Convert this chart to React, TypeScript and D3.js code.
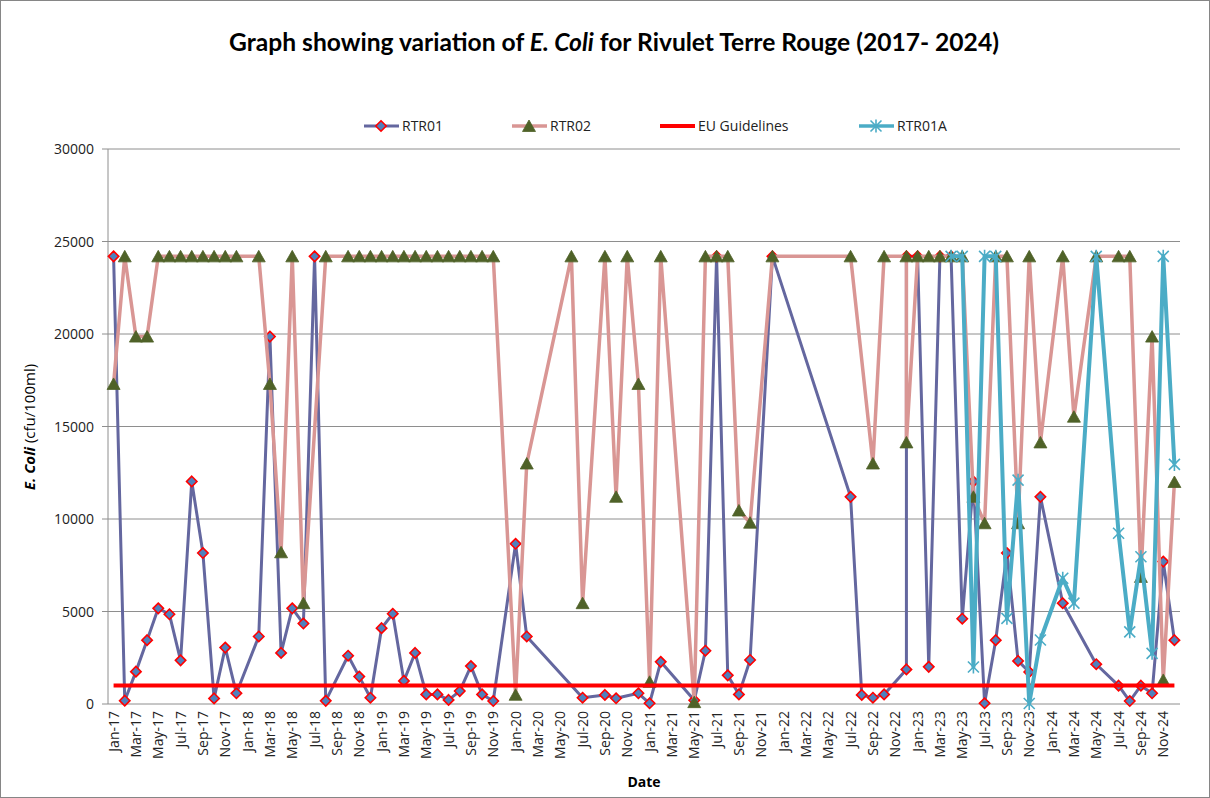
import React from 'react';
import * as d3 from 'd3';

// ---- Data ----
const months = d3.timeMonth.range(new Date(2017, 0, 1), new Date(2025, 0, 1));
const monthKey = d3.timeFormat('%Y-%m');
const tickFmt = d3.timeFormat('%b-%y');
const categories: string[] = months.map(monthKey);
const tickCategories: string[] = categories.filter((_, i) => i % 2 === 0);
const yTicks: number[] = [0, 5000, 10000, 15000, 20000, 25000, 30000];

const rtr01: [string, number][] = [
  ['2017-01', 24196], ['2017-02', 180], ['2017-03', 1750], ['2017-04', 3450], ['2017-05', 5170],
  ['2017-06', 4850], ['2017-07', 2360], ['2017-08', 12030], ['2017-09', 8160], ['2017-10', 300],
  ['2017-11', 3050], ['2017-12', 580], ['2018-02', 3650], ['2018-03', 19860], ['2018-04', 2760],
  ['2018-05', 5170], ['2018-06', 4350], ['2018-07', 24196], ['2018-08', 170], ['2018-10', 2610],
  ['2018-11', 1480], ['2018-12', 340], ['2019-01', 4100], ['2019-02', 4880], ['2019-03', 1250],
  ['2019-04', 2760], ['2019-05', 520], ['2019-06', 520], ['2019-07', 220], ['2019-08', 700],
  ['2019-09', 2050], ['2019-10', 520], ['2019-11', 160], ['2020-01', 8660], ['2020-02', 3650],
  ['2020-07', 340], ['2020-09', 490], ['2020-10', 310], ['2020-12', 580], ['2021-01', 40],
  ['2021-02', 2280], ['2021-05', 200], ['2021-06', 2880], ['2021-07', 24196], ['2021-08', 1550],
  ['2021-09', 520], ['2021-10', 2380], ['2021-12', 24196], ['2022-07', 11200], ['2022-08', 490],
  ['2022-09', 340], ['2022-10', 520], ['2022-12', 1870], ['2022-12', 24196], ['2023-01', 24196],
  ['2023-02', 2010], ['2023-03', 24196], ['2023-04', 24196], ['2023-05', 4610], ['2023-06', 12030],
  ['2023-07', 40], ['2023-08', 3450], ['2023-09', 8160], ['2023-10', 2330], ['2023-11', 1730],
  ['2023-12', 11200], ['2024-02', 5450], ['2024-05', 2150], ['2024-07', 990], ['2024-08', 160],
  ['2024-09', 990], ['2024-10', 580], ['2024-11', 7700], ['2024-12', 3450],
];

const rtr02: [string, number][] = [
  ['2017-01', 17300], ['2017-02', 24196], ['2017-03', 19860], ['2017-04', 19860], ['2017-05', 24196],
  ['2017-06', 24196], ['2017-07', 24196], ['2017-08', 24196], ['2017-09', 24196], ['2017-10', 24196],
  ['2017-11', 24196], ['2017-12', 24196], ['2018-02', 24196], ['2018-03', 17300], ['2018-04', 8200],
  ['2018-05', 24196], ['2018-06', 5450], ['2018-08', 24196], ['2018-10', 24196], ['2018-11', 24196],
  ['2018-12', 24196], ['2019-01', 24196], ['2019-02', 24196], ['2019-03', 24196], ['2019-04', 24196],
  ['2019-05', 24196], ['2019-06', 24196], ['2019-07', 24196], ['2019-08', 24196], ['2019-09', 24196],
  ['2019-10', 24196], ['2019-11', 24196], ['2020-01', 500], ['2020-02', 13000], ['2020-06', 24196],
  ['2020-07', 5450], ['2020-09', 24196], ['2020-10', 11200], ['2020-11', 24196], ['2020-12', 17300],
  ['2021-01', 1200], ['2021-02', 24196], ['2021-05', 100], ['2021-06', 24196], ['2021-07', 24196],
  ['2021-08', 24196], ['2021-09', 10460], ['2021-10', 9800], ['2021-12', 24196], ['2022-07', 24196],
  ['2022-09', 13000], ['2022-10', 24196], ['2022-12', 24196], ['2022-12', 14140], ['2023-01', 24196],
  ['2023-02', 24196], ['2023-03', 24196], ['2023-04', 24196], ['2023-05', 24196], ['2023-06', 11200],
  ['2023-07', 9770], ['2023-08', 24196], ['2023-09', 24196], ['2023-10', 9770], ['2023-11', 24196],
  ['2023-12', 14140], ['2024-02', 24196], ['2024-03', 15530], ['2024-05', 24196], ['2024-07', 24196],
  ['2024-08', 24196], ['2024-09', 6870], ['2024-10', 19860], ['2024-11', 1300], ['2024-12', 12000],
];

const euGuideline: [string, number][] = categories.map((c) => [c, 1000]);

const rtr01a: [string, number][] = [
  ['2023-04', 24196], ['2023-05', 24196], ['2023-06', 2000], ['2023-07', 24196], ['2023-08', 24196],
  ['2023-09', 4630], ['2023-10', 12100], ['2023-11', 30], ['2023-12', 3460], ['2024-02', 6800],
  ['2024-03', 5450], ['2024-05', 24196], ['2024-07', 9230], ['2024-08', 3900], ['2024-09', 7960],
  ['2024-10', 2740], ['2024-11', 24196], ['2024-12', 12950],
];

// ---- Layout ----
const W = 1210;
const H = 798;
const plot = { left: 108, right: 1180, top: 149, bottom: 704 };
const FONT = "'Open Sans', 'Liberation Sans', sans-serif";
const TITLE_FONT = "Lato, 'Open Sans', sans-serif";

const C01 = '#64679f';
const C02 = '#d99694';
const CEU = '#ff0000';
const C1A = '#4bacc6';

function Diamond({ x, y }: { x: number; y: number }) {
  const r = 5.2;
  return (
    <path
      d={`M${x},${y - r}L${x + r},${y}L${x},${y + r}L${x - r},${y}Z`}
      fill="#4f81bd"
      stroke="#ff0000"
      strokeWidth={1.6}
    />
  );
}

function Triangle({ x, y }: { x: number; y: number }) {
  const w = 6.5;
  const h = 11;
  return (
    <path
      d={`M${x},${y - h / 2 - 0.5}L${x + w},${y + h / 2}L${x - w},${y + h / 2}Z`}
      fill="#4f6228"
      stroke="#4f6228"
      strokeWidth={0.8}
    />
  );
}

function Star({ x, y }: { x: number; y: number }) {
  const r = 5.5;
  return (
    <path
      d={`M${x - r},${y - r}L${x + r},${y + r}M${x - r},${y + r}L${x + r},${y - r}M${x},${y - r - 1}L${x},${y + r + 1}`}
      stroke={C1A}
      strokeWidth={1.6}
      fill="none"
    />
  );
}

export default function App() {
  const x = d3.scaleBand<string>().domain(categories).range([plot.left, plot.right]).paddingInner(0).paddingOuter(0);
  const y = d3.scaleLinear().domain([0, 30000]).range([plot.bottom, plot.top]);
  const cx = (k: string) => (x(k) as number) + x.bandwidth() / 2;

  const line = d3
    .line<[string, number]>()
    .x((d) => cx(d[0]))
    .y((d) => y(d[1]));

  const legendY = 126;
  const legend = [
    { label: 'RTR01', x0: 364, color: C01, width: 3, marker: 'd' },
    { label: 'RTR02', x0: 512, color: C02, width: 3.5, marker: 't' },
    { label: 'EU Guidelines', x0: 660, color: CEU, width: 4, marker: '' },
    { label: 'RTR01A', x0: 859, color: C1A, width: 3.5, marker: 's' },
  ];

  return (
    <svg
      width={W}
      height={H}
      viewBox={`0 0 ${W} ${H}`}
      style={{ position: 'absolute', left: 0, top: 0, background: '#fff' }}
      fontFamily={FONT}
    >
      <rect x={0.5} y={0.5} width={W - 1} height={H - 1} fill="#fff" stroke="#868686" strokeWidth={1} />

      {/* Title */}
      <text x={614} y={51} textAnchor="middle" fontFamily={TITLE_FONT} fontWeight="bold" fontSize={24.6} fill="#000">
        <tspan>Graph showing variation of </tspan>
        <tspan fontStyle="italic">E. Coli</tspan>
        <tspan> for Rivulet Terre Rouge (2017- 2024)</tspan>
      </text>

      {/* Gridlines */}
      {yTicks.map((t) => (
        <line key={t} x1={plot.left} x2={plot.right} y1={y(t)} y2={y(t)} stroke="#8e8e8e" strokeWidth={1} />
      ))}

      {/* Axes */}
      <line x1={plot.left} x2={plot.left} y1={plot.top} y2={plot.bottom} stroke="#8e8e8e" strokeWidth={1} />
      {yTicks.map((t) => (
        <g key={'yt' + t}>
          <line x1={plot.left - 6} x2={plot.left} y1={y(t)} y2={y(t)} stroke="#8e8e8e" />
          <text x={94} y={y(t) + 5} textAnchor="end" fontSize={14} fill="#222">
            {t}
          </text>
        </g>
      ))}
      {tickCategories.map((k) => {
        const d = months[categories.indexOf(k)];
        return (
          <text
            key={k}
            transform={`translate(${cx(k) + 5},${711}) rotate(-90)`}
            textAnchor="end"
            fontSize={14}
            fill="#222"
          >
            {tickFmt(d)}
          </text>
        );
      })}

      {/* Axis titles */}
      <text transform={`translate(35,427) rotate(-90)`} textAnchor="middle" fontSize={15} fill="#000">
        <tspan fontWeight="bold" fontStyle="italic">E. Coli</tspan>
        <tspan> (cfu/100ml)</tspan>
      </text>
      <text x={644} y={787} textAnchor="middle" fontSize={14} fontWeight="bold" fill="#000">
        Date
      </text>

      {/* RTR01 */}
      <path d={line(rtr01) || ''} fill="none" stroke={C01} strokeWidth={3} strokeLinejoin="round" />
      {rtr01.map((d, i) => (
        <Diamond key={'a' + i} x={cx(d[0])} y={y(d[1])} />
      ))}

      {/* RTR02 */}
      <path d={line(rtr02) || ''} fill="none" stroke={C02} strokeWidth={3.5} strokeLinejoin="round" />
      {rtr02.map((d, i) => (
        <Triangle key={'b' + i} x={cx(d[0])} y={y(d[1])} />
      ))}

      {/* EU Guidelines */}
      <path d={line(euGuideline) || ''} fill="none" stroke={CEU} strokeWidth={4} />

      {/* RTR01A */}
      <path d={line(rtr01a) || ''} fill="none" stroke={C1A} strokeWidth={4} strokeLinejoin="round" />
      {rtr01a.map((d, i) => (
        <Star key={'c' + i} x={cx(d[0])} y={y(d[1])} />
      ))}

      {/* Legend */}
      {legend.map((l) => (
        <g key={l.label}>
          <line x1={l.x0} x2={l.x0 + 35} y1={legendY} y2={legendY} stroke={l.color} strokeWidth={l.width} />
          {l.marker === 'd' && <Diamond x={l.x0 + 17} y={legendY} />}
          {l.marker === 't' && <Triangle x={l.x0 + 17} y={legendY} />}
          {l.marker === 's' && <Star x={l.x0 + 17} y={legendY} />}
          <text x={l.x0 + 38} y={legendY + 5} fontSize={14} fill="#222">
            {l.label}
          </text>
        </g>
      ))}
    </svg>
  );
}
